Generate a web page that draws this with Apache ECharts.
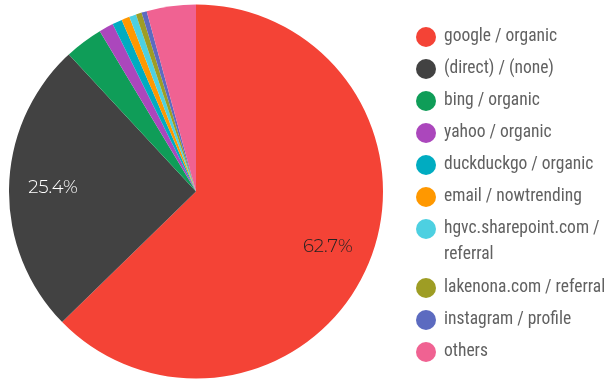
<!DOCTYPE html>
<html><head><meta charset="utf-8">
<script src="https://cdn.jsdelivr.net/npm/echarts@6/dist/echarts.min.js"></script>
<style>html,body{margin:0;padding:0;background:#fff}#c{width:607px;height:381px}</style>
</head><body><div id="c"></div>
<script>
const categories = ["google / organic","(direct) / (none)","bing / organic","yahoo / organic","duckduckgo / organic","email / nowtrending","hgvc.sharepoint.com / referral","lakenona.com / referral","instagram / profile","others"];
const values = [62.7,25.4,3.3,1.25,0.85,0.7,0.6,0.5,0.45,4.25];
const colors = ["#F44336","#424242","#0F9D58","#AB47BC","#00ACC1","#FF9800","#4DD0E1","#9E9D24","#5C6BC0","#F06292"];
const labelColors = ["#222222","#ffffff"];

const data = categories.map((n,i)=>({name:n,value:values[i],itemStyle:{color:colors[i]}}));
const labelData = categories.map((n,i)=>({name:n,value:values[i],
  label:{show:i<2,color:labelColors[i]||'#222'}}));

const legendText = {fontFamily:"Roboto",fontWeight:'normal condensed',fontSize:17.5,color:'#616161',lineHeight:25,padding:[0,0,0,3]};
const legendBase = {orient:'vertical', left:416, padding:0, icon:'circle', itemWidth:20, itemHeight:20, itemGap:7, textStyle:legendText};

const chart = echarts.init(document.getElementById('c'),null,{renderer:'canvas'});
chart.setOption({
  animation:false,
  legend:[
    Object.assign({}, legendBase, {top:24.5, data:categories.slice(0,7),
      formatter:n=>n==='hgvc.sharepoint.com / referral'?'hgvc.sharepoint.com /':n}),
    Object.assign({}, legendBase, {top:275.5, data:categories.slice(7)})
  ],
  graphic:[{type:'text',left:444,top:242,silent:true,
    style:{text:'referral',fontFamily:"Roboto",fontWeight:'normal condensed',fontSize:17.5,fill:'#616161',lineHeight:25}}],
  series:[
    {type:'pie',center:[196,191.5],radius:[0,187],startAngle:90,clockwise:true,
     label:{show:false},labelLine:{show:false},silent:true,data:data},
    {type:'pie',center:[196,191.5],radius:[105,175],startAngle:90,clockwise:true,
     percentPrecision:1,silent:true,legendHoverLink:false,
     itemStyle:{color:'rgba(0,0,0,0)'},
     label:{position:'inside',formatter:'{d}%',fontFamily:"Montserrat",fontWeight:300,fontSize:18},
     labelLine:{show:false},data:labelData}
  ]
});
</script></body></html>
